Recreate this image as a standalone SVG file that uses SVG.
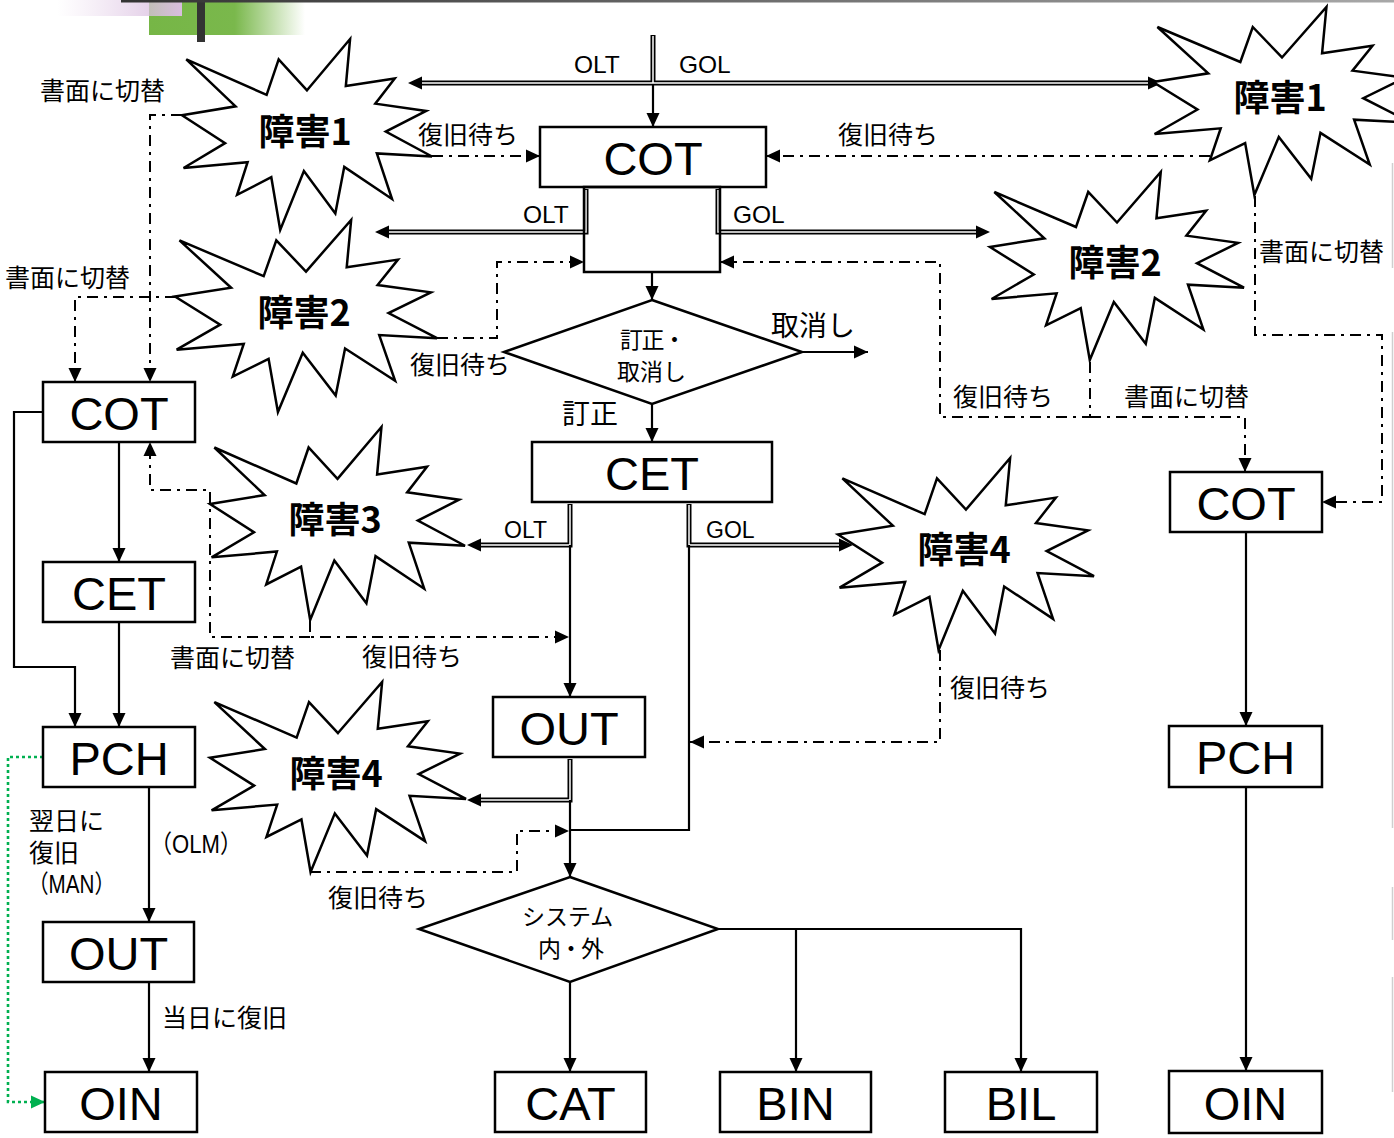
<svg xmlns="http://www.w3.org/2000/svg" xmlns:xlink="http://www.w3.org/1999/xlink" width="1394" height="1138" viewBox="0 0 1394 1138">
<style>
.box{fill:#fff;stroke:#000;stroke-width:2.5}
.burst{fill:#fff;stroke:#000;stroke-width:2.5}
.ln{fill:none;stroke:#000;stroke-width:2.2}
.dd{fill:none;stroke:#000;stroke-width:2;stroke-dasharray:11 6 3 6}
.dbo{fill:none;stroke:#000;stroke-width:5}
.dbi{fill:none;stroke:#fff;stroke-width:1.5}
.gd{fill:none;stroke:#00b050;stroke-width:2.6;stroke-dasharray:3 3}
.nt{font-family:"Liberation Sans",Arial,sans-serif;font-size:47px;text-anchor:middle;fill:#000}
.bt{font-family:"Noto Sans CJK JP",sans-serif;font-weight:bold;font-size:36px;text-anchor:middle;fill:#000}
.lb{font-family:"Noto Sans CJK JP",sans-serif;font-size:25px;fill:#000}
.dt{font-family:"Noto Sans CJK JP",sans-serif;font-size:23px;fill:#000}
.sm{font-family:"Liberation Sans",Arial,sans-serif;font-size:24.5px;fill:#000}
.sm2{font-family:"Liberation Sans",Arial,sans-serif;font-size:23px;fill:#000}
.mx{font-family:"Liberation Sans","Noto Sans CJK JP",sans-serif;font-size:25px;fill:#000}
</style>
<defs>
<linearGradient id="gGreen" x1="0" x2="1" y1="0" y2="0">
<stop offset="0" stop-color="#76b646"/><stop offset="0.55" stop-color="#7ab84c"/><stop offset="1" stop-color="#7ab84c" stop-opacity="0"/>
</linearGradient>
<linearGradient id="gPurple" x1="0" x2="1" y1="0" y2="0">
<stop offset="0" stop-color="#e4cfe8" stop-opacity="0"/><stop offset="1" stop-color="#d9bddf"/>
</linearGradient>
<linearGradient id="gTop" x1="0" x2="1" y1="0" y2="0">
<stop offset="0" stop-color="#333"/><stop offset="1" stop-color="#a8a8a8"/>
</linearGradient>
<path id="burstShape" vector-effect="non-scaling-stroke" d="M108,58 L145.22,0 L141.55,53.25 L183.8,44.57 L167.02,73.15 L210.97,81.37 L176.07,104.75 L216,132.9 L168.37,129.42 L181.45,180.95 L140.2,144.57 L132.47,197.37 L105.32,149.35 L84.85,216 L77.15,156.27 L47.62,176.17 L56.67,139.37 L1.35,145.87 L37.22,117.75 L0,86.15 L46.27,76.17 L3.7,22.95 L73.12,63.2 L83.52,22.95 Z"/>
<marker id="a" markerUnits="userSpaceOnUse" markerWidth="14" markerHeight="14" viewBox="0 0 14 14" refX="14" refY="7" orient="auto" overflow="visible"><path d="M0,0.5 L14,7 L0,13.5 Z" fill="#000"/></marker>
<marker id="ad" markerUnits="userSpaceOnUse" markerWidth="14" markerHeight="14" viewBox="0 0 14 14" refX="6" refY="7" orient="auto" overflow="visible"><path d="M0,0.5 L14,7 L0,13.5 Z" fill="#000"/></marker>
<marker id="ag" markerUnits="userSpaceOnUse" markerWidth="14" markerHeight="14" viewBox="0 0 14 14" refX="14" refY="7" orient="auto" overflow="visible"><path d="M0,0.5 L14,7 L0,13.5 Z" fill="#00b050"/></marker>
</defs>

<g id="decoration">
<rect x="149" y="0" width="156" height="35" fill="url(#gGreen)"/>
<rect x="57" y="0" width="125" height="16" fill="url(#gPurple)"/>
<rect x="197" y="0" width="8" height="42" fill="#333"/>
<rect x="121" y="0" width="1273" height="2.5" fill="url(#gTop)"/>
<path d="M1392.5,163 V268 M1392.5,332 V828 M1392.5,887 V940 M1392.5,977 V1092" stroke="#cfcfcf" stroke-width="1.5" fill="none"/>
</g>

<g id="connectors">
<path class="dbo" d="M653,35 V85"/>
<path class="dbo" d="M653,83 H416" marker-end="url(#ad)"/>
<path class="dbo" d="M653,83 H1154" marker-end="url(#ad)"/>
<path class="dbo" d="M586,189 V232 H383" marker-end="url(#ad)"/>
<path class="dbo" d="M718,189 V232 H982" marker-end="url(#ad)"/>
<path class="dbo" d="M570,504 V545 H475" marker-end="url(#ad)"/>
<path class="dbo" d="M689,504 V545 H845" marker-end="url(#ad)"/>
<path class="dbo" d="M570,759 V800 H475" marker-end="url(#ad)"/>
<path class="dbi" d="M653,36 V83 M422,83 H1148"/>
<path class="dbi" d="M586,190 V232 H389"/>
<path class="dbi" d="M718,190 V232 H976"/>
<path class="dbi" d="M570,505 V545 H481"/>
<path class="dbi" d="M689,505 V545 H839"/>
<path class="dbi" d="M570,760 V800 H481"/>
<path class="ln" d="M653,85 V127" marker-end="url(#a)"/>
<path class="ln" d="M652,272 V300" marker-end="url(#a)"/>
<path class="ln" d="M802,352 H868" marker-end="url(#a)"/>
<path class="ln" d="M652,404 V442" marker-end="url(#a)"/>
<path class="ln" d="M570,545 V697" marker-end="url(#a)"/>
<path class="ln" d="M689,545 V830 H570"/>
<path class="ln" d="M570,800 V877" marker-end="url(#a)"/>
<path class="ln" d="M570,982 V1072" marker-end="url(#a)"/>
<path class="ln" d="M718,929 H1021 V1072" marker-end="url(#a)"/>
<path class="ln" d="M796,929 V1072" marker-end="url(#a)"/>
<path class="ln" d="M119,442 V562" marker-end="url(#a)"/>
<path class="ln" d="M119,622 V727" marker-end="url(#a)"/>
<path class="ln" d="M43,412 H14 V667 H75 V727" marker-end="url(#a)"/>
<path class="ln" d="M149,787 V922" marker-end="url(#a)"/>
<path class="ln" d="M149,982 V1072" marker-end="url(#a)"/>
<path class="ln" d="M1246,532 V726" marker-end="url(#a)"/>
<path class="ln" d="M1246,787 V1071" marker-end="url(#a)"/>
<path class="dd" d="M432,156 H540" marker-end="url(#a)"/>
<path class="dd" d="M1210,156 H766" marker-end="url(#a)"/>
<path class="dd" d="M182,115 H150 V382" marker-end="url(#a)"/>
<path class="dd" d="M176,297 H75 V382" marker-end="url(#a)"/>
<path class="dd" d="M437,338 H497 V262 H584" marker-end="url(#a)"/>
<path class="dd" d="M1090,362 V417 H940 V262 H720" marker-end="url(#a)"/>
<path class="dd" d="M1090,417 H1245 V472" marker-end="url(#a)"/>
<path class="dd" d="M1255,196 V335 H1382 V502 H1322" marker-end="url(#a)"/>
<path class="dd" d="M310,621 V637 H569" marker-end="url(#a)"/>
<path class="dd" d="M310,637 H210 V490 H150 V442" marker-end="url(#a)"/>
<path class="dd" d="M940,650 V742 H690" marker-end="url(#a)"/>
<path class="dd" d="M310,872 H517 V831 H569" marker-end="url(#a)"/>
<path class="gd" d="M43,757 H8 V1102 H45" marker-end="url(#ag)"/>
</g>

<g id="labels">
<text class="sm" x="574" y="73">OLT</text>
<text class="sm" x="679" y="73">GOL</text>
<text class="sm" x="523" y="223">OLT</text>
<text class="sm" x="733" y="223">GOL</text>
<text class="sm2" x="504" y="538">OLT</text>
<text class="sm2" x="706" y="538">GOL</text>
<text class="lb" x="40" y="100">書面に切替</text>
<text class="lb" x="5" y="287">書面に切替</text>
<text class="lb" x="418" y="144">復旧待ち</text>
<text class="lb" x="838" y="144">復旧待ち</text>
<text class="lb" x="1259" y="261">書面に切替</text>
<text class="lb" x="410" y="374">復旧待ち</text>
<text class="lb" x="953" y="406">復旧待ち</text>
<text class="lb" x="1124" y="406">書面に切替</text>
<text class="lb" x="170" y="667">書面に切替</text>
<text class="lb" x="362" y="666">復旧待ち</text>
<text class="lb" x="950" y="697">復旧待ち</text>
<text class="lb" x="328" y="907">復旧待ち</text>
<text class="lb" x="29" y="830">翌日に<tspan x="29" y="862">復旧</tspan><tspan class="mx" x="28" y="893" textLength="87" lengthAdjust="spacingAndGlyphs">（MAN）</tspan></text>
<text class="mx" x="150" y="853" textLength="92" lengthAdjust="spacingAndGlyphs">（OLM）</text>
<text class="lb" x="162" y="1027">当日に復旧</text>
<text class="lb" x="771" y="336" style="font-size:28px">取消し</text>
<text class="lb" x="562" y="424" style="font-size:28px">訂正</text>
</g>

<g id="burst1L"><use xlink:href="#burstShape" class="burst" transform="translate(182 39) scale(1.1574 0.8843)"/><text class="bt" x="305" y="145">障害1</text></g>
<g id="burst1R"><use xlink:href="#burstShape" class="burst" transform="translate(1153 7) scale(1.1944 0.8704)"/><text class="bt" x="1280" y="111">障害1</text></g>
<g id="burst2L"><use xlink:href="#burstShape" class="burst" transform="translate(175 220) scale(1.2130 0.8889)"/><text class="bt" x="304" y="326">障害2</text></g>
<g id="burst2R"><use xlink:href="#burstShape" class="burst" transform="translate(990 172) scale(1.1759 0.8704)"/><text class="bt" x="1115" y="276">障害2</text></g>
<g id="burst3"><use xlink:href="#burstShape" class="burst" transform="translate(210 427) scale(1.1806 0.8935)"/><text class="bt" x="335" y="533">障害3</text></g>
<g id="burst4R"><use xlink:href="#burstShape" class="burst" transform="translate(838 458) scale(1.1852 0.8889)"/><text class="bt" x="964" y="563">障害4</text></g>
<g id="burst4L"><use xlink:href="#burstShape" class="burst" transform="translate(210 682) scale(1.1852 0.8796)"/><text class="bt" x="336" y="787">障害4</text></g>

<g id="cot-top"><rect class="box" x="540" y="127" width="226" height="60"/><text class="nt" x="653" y="175">COT</text></g>
<g id="cot-sub"><rect class="box" x="584" y="187" width="136" height="85" style="fill:none"/></g>
<g id="decision1"><polygon class="box" points="652,300 802,352 652,404 504,352"/><text class="dt" x="620" y="348" textLength="66" lengthAdjust="spacing">訂正・</text><text class="dt" x="617" y="380">取消し</text></g>
<g id="cet-center"><rect class="box" x="532" y="442" width="240" height="60"/><text class="nt" x="652" y="490">CET</text></g>
<g id="out-center"><rect class="box" x="493" y="697" width="152" height="60"/><text class="nt" x="569" y="745">OUT</text></g>
<g id="decision2"><polygon class="box" points="570,877 718,929 570,982 419,929"/><text class="dt" x="522" y="925">システム</text><text class="dt" x="538" y="957" textLength="66" lengthAdjust="spacing">内・外</text></g>
<g id="cat"><rect class="box" x="495" y="1072" width="151" height="60"/><text class="nt" x="570.5" y="1120">CAT</text></g>
<g id="bin"><rect class="box" x="720" y="1072" width="151" height="60"/><text class="nt" x="795.5" y="1120">BIN</text></g>
<g id="bil"><rect class="box" x="945" y="1072" width="152" height="60"/><text class="nt" x="1021" y="1120">BIL</text></g>
<g id="cot-left"><rect class="box" x="43" y="382" width="152" height="60"/><text class="nt" x="119" y="430">COT</text></g>
<g id="cet-left"><rect class="box" x="43" y="562" width="152" height="60"/><text class="nt" x="119" y="610">CET</text></g>
<g id="pch-left"><rect class="box" x="43" y="727" width="152" height="60"/><text class="nt" x="119" y="775">PCH</text></g>
<g id="out-left"><rect class="box" x="43" y="922" width="151" height="60"/><text class="nt" x="118.5" y="970">OUT</text></g>
<g id="oin-left"><rect class="box" x="45" y="1072" width="152" height="60"/><text class="nt" x="121" y="1120">OIN</text></g>
<g id="cot-right"><rect class="box" x="1170" y="472" width="152" height="60"/><text class="nt" x="1246" y="520">COT</text></g>
<g id="pch-right"><rect class="box" x="1169" y="726" width="153" height="61"/><text class="nt" x="1245.5" y="774">PCH</text></g>
<g id="oin-right"><rect class="box" x="1169" y="1071" width="153" height="62"/><text class="nt" x="1245.5" y="1120">OIN</text></g>
</svg>
